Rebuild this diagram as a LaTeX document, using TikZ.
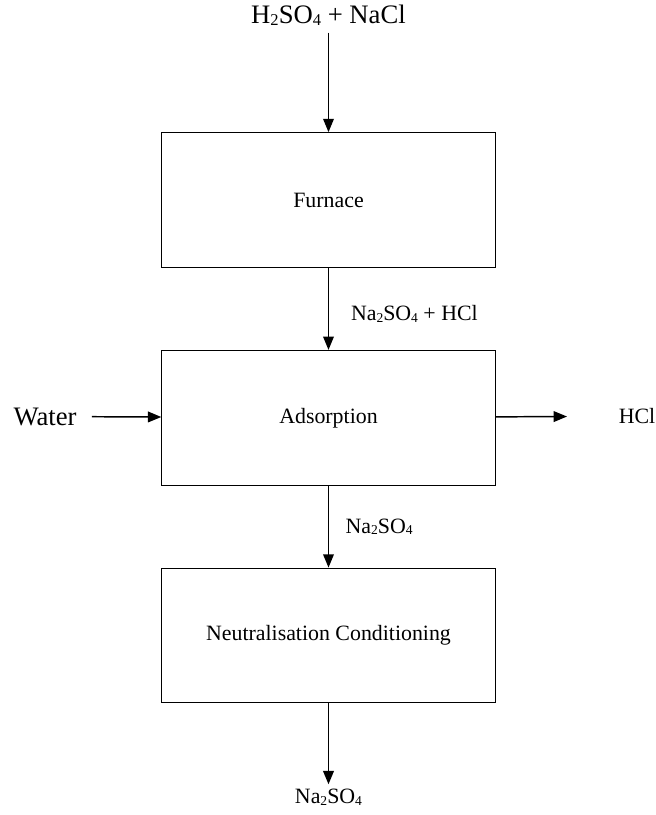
\documentclass[tikz,border=0pt]{standalone}
\usepackage{fontspec}
\setmainfont{Liberation Serif}
\usepackage{graphicx}
\usetikzlibrary{positioning,arrows.meta}
\newcommand{\chsub}[1]{\raisebox{-0.15ex}{\scalebox{0.62}{#1}}}

\begin{document}
\begin{tikzpicture}[
    x=0.75pt, y=-0.75pt,
    unit/.style={draw, line width=0.8pt, minimum width=250pt, minimum height=101pt, font=\fontsize{16.4}{20}\selectfont},
    stream/.style={font=\fontsize{16.4}{20}\selectfont},
    bigstream/.style={font=\fontsize{20}{24}\selectfont},
    flow/.style={draw, line width=1.1pt, -{Triangle[length=10pt,width=8pt]}},
    node distance=61.5pt
]
    \useasboundingbox (0,0) rectangle (656,815);
    \node [unit] (furnace) at (328.5,200) {Furnace};
    \node [unit, below=of furnace] (adsorption) {Adsorption};
    \node [unit, below=of adsorption] (neutral) {Neutralisation Conditioning};
    \node [bigstream] (feed) at (328.5,15) {H\chsub{2}SO\chsub{4} + NaCl};
    \node [bigstream] (water) at (45,416.5) {Water};
    \node [stream] (hcl) at (637,416.5) {HCl};
    \node [stream] (product) at (328.5,797) {Na\chsub{2}SO\chsub{4}};
    \coordinate (hclend) at (567,416.5);
    % streams
    \draw [flow, shorten <=2pt] (feed) -- (furnace);
    \draw [flow] (furnace) -- node [stream, pos=0.56, right=13pt] {Na\chsub{2}SO\chsub{4} + HCl} (adsorption);
    \draw [flow] (adsorption) -- node [stream, right=9pt] {Na\chsub{2}SO\chsub{4}} (neutral);
    \draw [flow] (neutral) -- (product);
    \draw [flow, shorten <=8pt] (water) -- (adsorption);
    \draw [flow] (adsorption) -- (hclend);
\end{tikzpicture}
\end{document}
